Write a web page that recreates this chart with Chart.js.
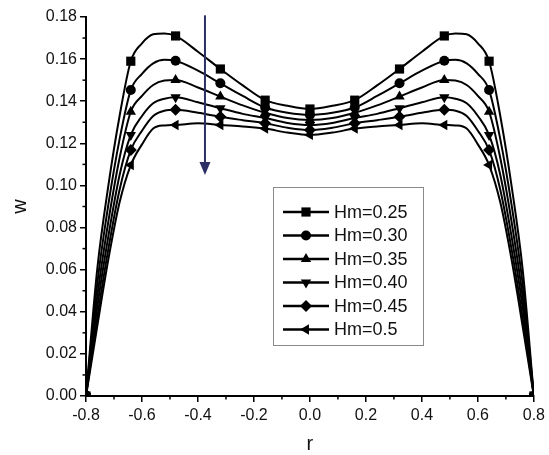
<!DOCTYPE html>
<html><head><meta charset="utf-8">
<script src="https://cdn.jsdelivr.net/npm/chart.js@4"></script>
<style>html,body{margin:0;padding:0;background:#fff}canvas{display:block}</style>
</head><body>
<canvas id="c" width="549" height="455"></canvas>
<script>
const rValues = [-0.8,-0.76,-0.72,-0.68,-0.64,-0.60,-0.56,-0.52,-0.48,-0.40,-0.32,-0.24,-0.16,-0.08,0,0.08,0.16,0.24,0.32,0.40,0.48,0.52,0.56,0.60,0.64,0.68,0.72,0.76,0.8];
const markerR = [-0.8,-0.64,-0.48,-0.32,-0.16,0,0.16,0.32,0.48,0.64,0.8];
const seriesLabels = ['Hm=0.25','Hm=0.30','Hm=0.35','Hm=0.40','Hm=0.45','Hm=0.5'];
const w025 = [0,0.060,0.100,0.133,0.159,0.1675,0.1718,0.1722,0.171,0.1635,0.1553,0.1475,0.1405,0.1378,0.1363,0.1378,0.1405,0.1475,0.1553,0.1635,0.171,0.1722,0.1718,0.1675,0.159,0.133,0.100,0.060,0];
const w030 = [0,0.053,0.091,0.122,0.1453,0.153,0.158,0.1597,0.1592,0.1545,0.1485,0.1425,0.137,0.1345,0.1335,0.1345,0.137,0.1425,0.1485,0.1545,0.1592,0.1597,0.158,0.153,0.1453,0.122,0.091,0.053,0];
const w035 = [0,0.047,0.083,0.113,0.135,0.1425,0.1477,0.1498,0.1501,0.1465,0.1422,0.138,0.1345,0.132,0.1311,0.132,0.1345,0.138,0.1422,0.1465,0.1501,0.1498,0.1477,0.1425,0.135,0.113,0.083,0.047,0];
const w040 = [0,0.042,0.076,0.105,0.124,0.133,0.139,0.1412,0.1419,0.1395,0.1367,0.134,0.132,0.1297,0.1287,0.1297,0.132,0.134,0.1367,0.1395,0.1419,0.1412,0.139,0.133,0.124,0.105,0.076,0.042,0];
const w045 = [0,0.037,0.070,0.098,0.1168,0.126,0.133,0.1355,0.1359,0.1345,0.1326,0.131,0.1295,0.1274,0.1263,0.1274,0.1295,0.131,0.1326,0.1345,0.1359,0.1355,0.133,0.126,0.1168,0.098,0.070,0.037,0];
const w050 = [0,0.033,0.065,0.092,0.1097,0.1195,0.127,0.1285,0.1287,0.1295,0.1287,0.128,0.127,0.1251,0.124,0.1251,0.127,0.128,0.1287,0.1295,0.1287,0.1285,0.127,0.1195,0.1097,0.092,0.065,0.033,0];
const xTickValues = [-0.8,-0.6,-0.4,-0.2,0,0.2,0.4,0.6,0.8];
const yTickValues = [0,0.02,0.04,0.06,0.08,0.10,0.12,0.14,0.16,0.18];

const allSeries = [w025,w030,w035,w040,w045,w050];
const styles = [
  {ps:'rect', rot:0, r:6.5},
  {ps:'circle', rot:0, r:5},
  {ps:'triangle', rot:0, r:6},
  {ps:'triangle', rot:180, r:6},
  {ps:'rectRot', rot:0, r:6},
  {ps:'triangle', rot:270, r:6}
];
function isMarker(i){ return markerR.some(m => Math.abs(m - rValues[i]) < 1e-6); }

const datasets = allSeries.map((s, k) => ({
  label: seriesLabels[k],
  data: s.map((v, i) => ({x: rValues[i], y: v})),
  borderColor: '#000',
  backgroundColor: '#000',
  borderWidth: 2,
  pointStyle: styles[k].ps,
  pointRotation: styles[k].rot,
  pointRadius: ctx => isMarker(ctx.dataIndex) ? styles[k].r : 0,
  pointBorderWidth: 0,
  pointHoverRadius: 0,
  cubicInterpolationMode: 'monotone',
  fill: false
}));

const FONT = "'Liberation Sans', Arial, sans-serif";

const extras = {
  id: 'extras',
  afterDraw(chart) {
    const ctx = chart.ctx;
    const xs = chart.scales.x, ys = chart.scales.y;
    ctx.save();
    // minor ticks
    ctx.strokeStyle = '#000'; ctx.lineWidth = 1.5;
    for (let k = -7; k <= 7; k += 2) {
      const px = xs.getPixelForValue(k / 10);
      ctx.beginPath(); ctx.moveTo(px, ys.bottom); ctx.lineTo(px, ys.bottom + 3.5); ctx.stroke();
    }
    for (let k = 1; k <= 17; k += 2) {
      const py = ys.getPixelForValue(k / 100);
      ctx.beginPath(); ctx.moveTo(xs.left, py); ctx.lineTo(xs.left - 3.5, py); ctx.stroke();
    }
    // arrow
    const ax = xs.getPixelForValue(-0.375);
    const ay1 = ys.getPixelForValue(0.1808), ay2 = ys.getPixelForValue(0.105);
    ctx.strokeStyle = '#2c2f63'; ctx.fillStyle = '#2c2f63'; ctx.lineWidth = 2;
    ctx.beginPath(); ctx.moveTo(ax, ay1); ctx.lineTo(ax, ay2 - 10); ctx.stroke();
    ctx.beginPath(); ctx.moveTo(ax - 5.5, ay2 - 13); ctx.lineTo(ax + 5.5, ay2 - 13); ctx.lineTo(ax, ay2); ctx.closePath(); ctx.fill();
    // legend box
    const bx = 273, by = 187, bw = 150, bh = 158;
    ctx.strokeStyle = '#8a8a8a'; ctx.lineWidth = 1;
    ctx.strokeRect(bx + 0.5, by + 0.5, bw, bh);
    ctx.font = '18px ' + FONT; ctx.textBaseline = 'middle'; ctx.textAlign = 'left';
    for (let k = 0; k < 6; k++) {
      const yy = 212 + k * 23.5;
      ctx.strokeStyle = '#000'; ctx.lineWidth = 2.5;
      ctx.beginPath(); ctx.moveTo(283, yy); ctx.lineTo(329, yy); ctx.stroke();
      ctx.fillStyle = '#000'; ctx.strokeStyle = '#000';
      Chart.helpers.drawPoint(ctx, {pointStyle: styles[k].ps, rotation: styles[k].rot, radius: styles[k].r, borderWidth: 0}, 306, yy);
      ctx.fillStyle = '#111';
      ctx.fillText(seriesLabels[k], 334, yy + 1);
    }
    ctx.restore();
  }
};

new Chart(document.getElementById('c'), {
  type: 'line',
  data: { datasets },
  options: {
    responsive: false,
    animation: false,
    devicePixelRatio: 1,
    layout: { padding: { top: 17, right: 12, left: 0, bottom: 0 } },
    plugins: { legend: { display: false }, tooltip: { enabled: false } },
    scales: {
      x: {
        type: 'linear', min: -0.8, max: 0.8,
        afterFit: s => { s.height = 59; },
        afterBuildTicks: s => { s.ticks = xTickValues.map(v => ({value: v})); },
        ticks: { autoSkip: false, maxRotation: 0, padding: 4, color: '#111',
          font: { family: FONT, size: 16 },
          callback: v => (Math.round(v * 10) / 10).toFixed(1) },
        grid: { display: true, drawOnChartArea: false, drawTicks: true, tickLength: 6, color: '#000', lineWidth: 1.5 },
        border: { display: true, color: '#000', width: 2 },
        title: { display: true, text: 'r', color: '#111', font: { family: FONT, size: 20, lineHeight: 1 }, padding: { top: 0, bottom: 1 } }
      },
      y: {
        type: 'linear', min: 0, max: 0.18,
        afterFit: s => { s.width = 86; },
        afterBuildTicks: s => { s.ticks = yTickValues.map(v => ({value: v})); },
        ticks: { autoSkip: false, padding: 3, color: '#111',
          font: { family: FONT, size: 16 },
          callback: v => (Math.round(v * 100) / 100).toFixed(2) },
        grid: { display: true, drawOnChartArea: false, drawTicks: true, tickLength: 6, color: '#000', lineWidth: 1.5 },
        border: { display: true, color: '#000', width: 2 },
        title: { display: true, text: 'w', color: '#111', font: { family: FONT, size: 20, lineHeight: 1 }, padding: { top: 10, bottom: 0 } }
      }
    }
  },
  plugins: [extras]
});
</script>
</body></html>
